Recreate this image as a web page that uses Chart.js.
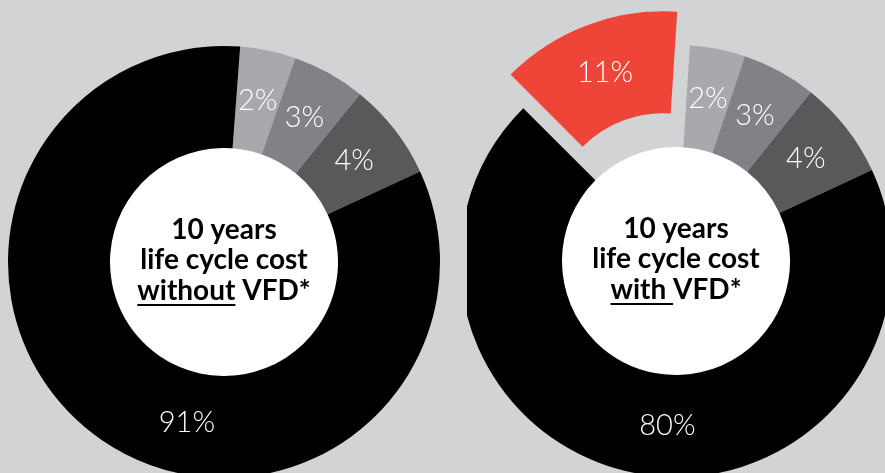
<!DOCTYPE html>
<html>
<head>
<meta charset="utf-8">
<script src="https://cdn.jsdelivr.net/npm/chart.js@4.4.1/dist/chart.umd.min.js"></script>
<style>
    html, body { margin: 0; padding: 0; background: #d1d3d4; overflow: hidden; }
    body { width: 885px; height: 473px; position: relative; }
    .box { position: absolute; top: 0; height: 473px; }
    #boxLeft { left: 0; width: 448px; }
    #boxRight { left: 467px; width: 418px; }
</style>
</head>
<body>
<div class="box" id="boxLeft"><canvas id="leftChart"></canvas></div>
<div class="box" id="boxRight"><canvas id="rightChart"></canvas></div>
<script>
// Shares printed on the slices, and the opening of each slice as drawn (degrees)
const leftShares = ['2%', '3%', '4%', '91%'];
const leftArcs = [15.0, 19.7, 26.2, 299.1];
const rightShares = ['2%', '3%', '4%', '80%', '11%'];
const rightArcs = [14.9, 20.0, 26.5, 249.9, 48.7];

const leftTitle = ['10 years', 'life cycle cost', 'without', ' VFD*'];
const rightTitle = ['10 years', 'life cycle cost', 'with ', 'VFD*'];

const grays = ['#a7a9ac', '#808285', '#58595b', '#000000'];
const red = '#ef4538';

const donutExtras = {
    id: 'donutExtras',
    afterUpdate(chart, args, opts) {
        // pull one slice straight out, keeping its radii
        const meta = chart.getDatasetMeta(0);
        const el = meta.data[opts.explodeIndex];
        if (!el || el._pulled) return;
        const orig = el.draw;
        el.draw = function(ctx, area) {
            const mid = (this.startAngle + this.endAngle) / 2;
            ctx.save();
            ctx.translate(Math.cos(mid) * opts.explodeDistance, Math.sin(mid) * opts.explodeDistance);
            orig.call(this, ctx, area);
            ctx.restore();
        };
        el._pulled = true;
    },
    beforeDatasetsDraw(chart) {
        const arc = chart.getDatasetMeta(0).data[0];
        if (!arc) return;
        const ctx = chart.ctx;
        ctx.save();
        ctx.fillStyle = '#ffffff';
        ctx.beginPath();
        ctx.arc(arc.x, arc.y, arc.innerRadius, 0, Math.PI * 2);
        ctx.fill();
        ctx.restore();
    },
    afterDatasetsDraw(chart, args, opts) {
        const meta = chart.getDatasetMeta(0);
        const labels = chart.data.labels;
        const ctx = chart.ctx;
        ctx.save();

        // slice labels
        ctx.fillStyle = '#ffffff';
        ctx.font = '300 29px Lato';
        ctx.textAlign = 'center';
        ctx.textBaseline = 'middle';
        meta.data.forEach((arc, i) => {
            const mid = (arc.startAngle + arc.endAngle) / 2;
            let angle = mid;
            if (arc.endAngle - arc.startAngle > Math.PI) {
                angle = (opts.bigLabelAngle - 90) * Math.PI / 180;
            }
            const r = (arc.innerRadius + arc.outerRadius) / 2;
            const shift = i === opts.explodeIndex ? opts.explodeDistance : 0;
            const x = arc.x + Math.cos(angle) * r + Math.cos(mid) * shift;
            const y = arc.y + Math.sin(angle) * r + Math.sin(mid) * shift;
            ctx.fillText(labels[i], x, y);
        });

        // text in the hole
        const first = meta.data[0];
        const cx = first.x;
        const cy = first.y;
        const t = opts.title;
        ctx.fillStyle = '#000000';
        ctx.font = 'bold 28px Lato';
        ctx.textAlign = 'center';
        ctx.textBaseline = 'alphabetic';
        ctx.fillText(t[0], cx, cy - 23);
        ctx.fillText(t[1], cx, cy + 7);
        const wA = ctx.measureText(t[2]).width;
        const wB = ctx.measureText(t[3]).width;
        const x0 = cx - (wA + wB) / 2;
        ctx.textAlign = 'left';
        ctx.fillText(t[2], x0, cy + 38);
        ctx.fillText(t[3], x0 + wA, cy + 38);
        ctx.fillRect(x0, cy + 42, wA, 2);

        ctx.restore();
    }
};

function makeDonut(id, labels, arcs, colors, rotation, padTop, extras) {
    return new Chart(document.getElementById(id), {
        type: 'doughnut',
        data: {
            labels: labels,
            datasets: [{
                data: arcs,
                backgroundColor: colors,
                borderWidth: 0,
                clip: false
            }]
        },
        options: {
            responsive: true,
            maintainAspectRatio: false,
            animation: false,
            events: [],
            rotation: rotation,
            radius: 216,
            cutout: '52.8%',
            layout: { padding: { top: padTop } },
            plugins: {
                legend: { display: false },
                tooltip: { enabled: false },
                donutExtras: extras
            }
        },
        plugins: [donutExtras]
    });
}

makeDonut('leftChart', leftShares, leftArcs, grays, 4.3, 51, {
    title: leftTitle,
    bigLabelAngle: 193,
    explodeIndex: -1,
    explodeDistance: 0
});

makeDonut('rightChart', rightShares, rightArcs, grays.concat([red]), 3.7, 49, {
    title: rightTitle,
    bigLabelAngle: 183,
    explodeIndex: 4,
    explodeDistance: 36
});
</script>
</body>
</html>
